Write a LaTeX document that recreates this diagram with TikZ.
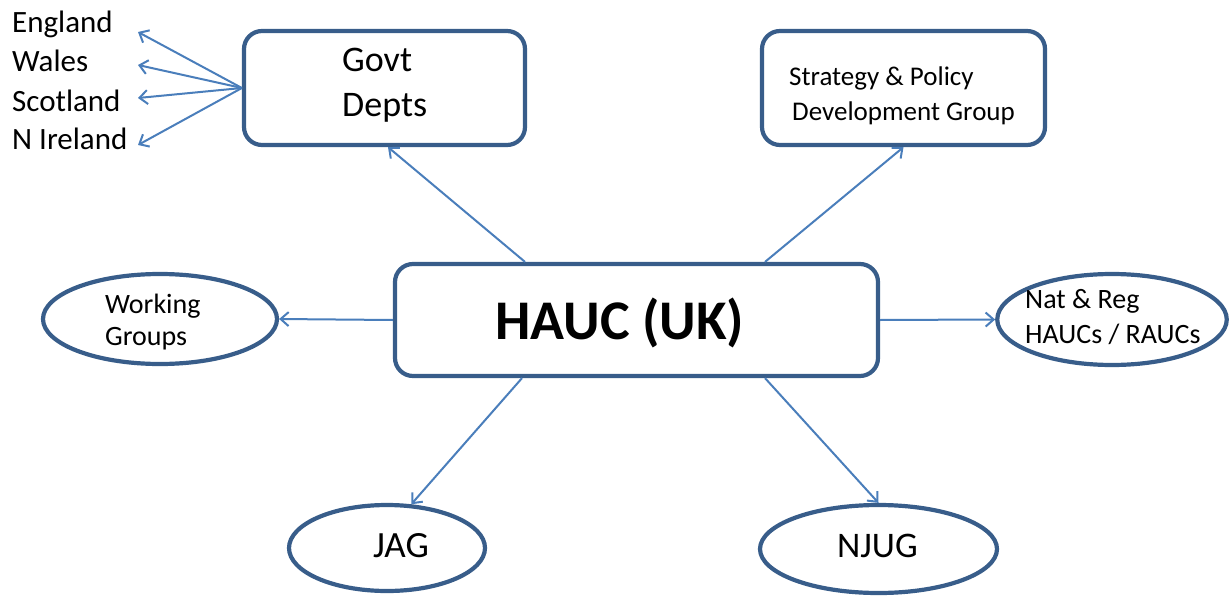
\documentclass[tikz,border=0pt]{standalone}
\usepackage{fontspec}
\setmainfont{Carlito}
\usetikzlibrary{shapes.geometric,arrows.meta,calc}
\definecolor{bordc}{HTML}{385D8A}
\definecolor{arrc}{HTML}{4A7EBB}
\tikzset{
  rbox/.style={draw=bordc, line width=4.2pt, rounded corners=18pt, rectangle, inner sep=0pt},
  oval/.style={draw=bordc, line width=4.2pt, ellipse, inner sep=0pt},
  txt/.style={anchor=base west, inner sep=0pt, text=black},
  arr/.style={draw=arrc, line width=2pt, -{Straight Barb[length=8pt,width=14pt,line width=2pt]}}
}
\begin{document}
\begin{tikzpicture}[x=1pt,y=-1pt]
\useasboundingbox (0,0) rectangle (1230,596);
% shapes
\node[rbox, minimum width=281pt, minimum height=114pt] (govt) at (384.5,88) {};
\node[rbox, minimum width=283pt, minimum height=114pt] (strat) at (903.5,88) {};
\node[rbox, minimum width=483pt, minimum height=112pt] (hauc) at (636.5,320) {};
\node[oval, minimum width=234pt, minimum height=90pt] (wg) at (160,319) {};
\node[oval, minimum width=229.5pt, minimum height=91pt] (nat) at (1112,319.5) {};
\node[oval, minimum width=196pt, minimum height=86pt] (jag) at (387,548) {};
\node[oval, minimum width=237pt, minimum height=88pt] (njug) at (878.5,549) {};
% texts
\node[txt, font=\fontsize{31}{31}\selectfont] (t-eng) at (12,33) {England};
\node[txt, font=\fontsize{31}{31}\selectfont] (t-wal) at (12,72) {Wales};
\node[txt, font=\fontsize{31}{31}\selectfont] (t-sco) at (12,112) {Scotland};
\node[txt, font=\fontsize{31}{31}\selectfont] (t-nir) at (12,150) {N Ireland};
\node[txt, font=\fontsize{36}{36}\selectfont] (t-govt1) at (342,72) {Govt};
\node[txt, font=\fontsize{36}{36}\selectfont] (t-govt2) at (342,117) {Depts};
\node[txt, font=\fontsize{27}{27}\selectfont] (t-str1) at (789,86) {Strategy \& Policy};
\node[txt, font=\fontsize{27}{27}\selectfont] (t-str2) at (792,121) {Development Group};
\node[txt, font=\bfseries\fontsize{56}{56}\selectfont] (t-hauc) at (495,339) {HAUC (UK)};
\node[txt, font=\fontsize{28}{28}\selectfont] (t-wg1) at (105,313) {Working};
\node[txt, font=\fontsize{28}{28}\selectfont] (t-wg2) at (105,345) {Groups};
\node[txt, font=\fontsize{28}{28}\selectfont] (t-nat1) at (1025,308) {Nat \& Reg};
\node[txt, font=\fontsize{28}{28}\selectfont] (t-nat2) at (1025,343) {HAUCs / RAUCs};
\node[txt, font=\fontsize{37}{37}\selectfont] (t-jag) at (373,557) {JAG};
\node[txt, font=\fontsize{36}{36}\selectfont] (t-njug) at (837,557) {NJUG};
% free ends
\coordinate (e1) at (138,32);
\coordinate (e2) at (138,65);
\coordinate (e3) at (138,98);
\coordinate (e4) at (138,145);
% connectors
\draw[arr] (govt.west) -- (e1);
\draw[arr] (govt.west) -- (e2);
\draw[arr] (govt.west) -- (e3);
\draw[arr] (govt.west) -- (e4);
\draw[arr] ([xshift=-111.5pt]hauc.north) -- ([xshift=3.5pt]govt.south);
\draw[arr] ([xshift=128.5pt]hauc.north) -- (strat.south);
\draw[arr] (hauc.west) -- (wg.east);
\draw[arr] (hauc.east) -- (nat.west);
\draw[arr] ([xshift=-114.5pt]hauc.south) -- (jag.61);
\draw[arr] ([xshift=128.5pt]hauc.south) -- (njug.north);
\end{tikzpicture}
\end{document}
